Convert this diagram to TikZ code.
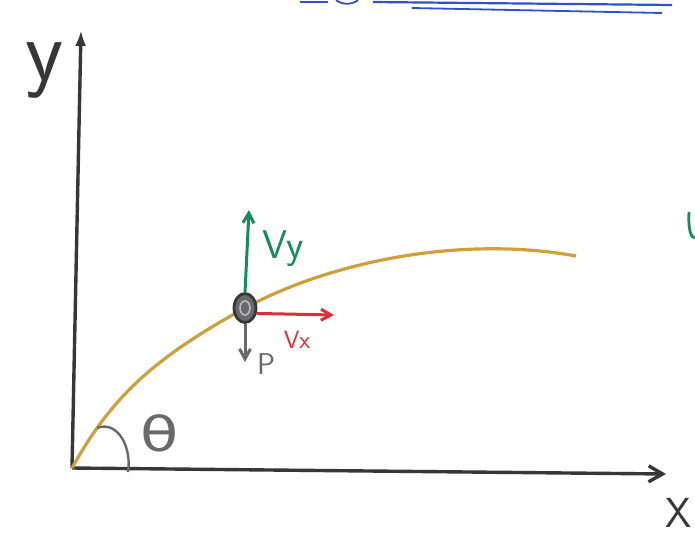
\documentclass[tikz,border=0pt]{standalone}
\usepackage{fontspec}
\newfontfamily\dejavu{DejaVu Sans}
\usetikzlibrary{arrows.meta,shapes.geometric}
\definecolor{pencil}{RGB}{55,55,58}
\definecolor{gold}{RGB}{205,160,60}
\definecolor{vgreen}{RGB}{20,140,95}
\definecolor{vred}{RGB}{225,45,55}
\definecolor{pgray}{RGB}{105,105,108}
\definecolor{pblue}{RGB}{50,80,200}
\tikzset{
  axis/.style={pencil, line width=3.4pt},
  vec/.style={line width=3pt, -{Straight Barb[length=10pt,width=11pt]}},
  lbl/.style={inner sep=0pt}
}
\begin{document}
\begin{tikzpicture}[x=1pt,y=-1pt]
\useasboundingbox (0,0) rectangle (695,538);
\fill[white] (0,0) rectangle (695,538);
% top blue strokes
\draw[pblue, line width=2.2pt] (373,2) -- (672,5);
\draw[pblue, line width=1.8pt] (412,8) -- (662,13);
\draw[pblue, line width=1.8pt] (300,2) -- (328,2);
\draw[pblue, line width=1.8pt] (336,0) .. controls (342,5) and (352,5) .. (358,0);
% partial green letter at right edge
\draw[vgreen, line width=2.8pt] (689,212) .. controls (688,230) and (691,238) .. (695,238);
% axes
\coordinate (O) at (72,468);
\coordinate (ytip) at (81,30);
\coordinate (xtip) at (666,474);
\draw[axis, -{Latex[length=16pt,width=11pt]}] (O) -- (ytip);
\draw[axis, -{Straight Barb[length=14pt,width=16pt]}] (O) -- (xtip);
\node[pencil, font=\sffamily\fontsize{88}{88}\selectfont, inner sep=0pt, anchor=base] (ylab) at (45,80) {y};
\node[pencil, font=\sffamily\fontsize{42}{42}\selectfont, inner sep=0pt, anchor=base] (xlab) at (679,527) {X};
% trajectory
\draw[gold, line width=3.2pt] (O) .. controls (110,400) and (150,360) .. (245,308)
  .. controls (330,262) and (460,235) .. (576,256);
% angle
\coordinate (a1) at (97,428);
\coordinate (a2) at (128,472);
\draw[pgray, line width=2.4pt] (a1) .. controls (118,420) and (132,448) .. (a2);
\node[pgray, font=\dejavu\fontsize{48}{48}\selectfont, inner sep=0pt] (theta) at (160,433) {\scalebox{1.3}[1]{θ}};
% ball
\node[ellipse, fill=pgray, draw=pencil, line width=2.8pt, minimum width=22pt, minimum height=29pt, inner sep=0pt] (ball) at (245,308) {};
\draw[gray!55!white, line width=1.6pt] (245,308) ellipse (5pt and 7pt);
% vectors
\coordinate (vyend) at (249,210);
\coordinate (vxend) at (334,315);
\coordinate (pend) at (245,362);
\draw[vec, vgreen] (ball.north) -- (vyend);
\draw[vec, vred] (ball.-25) -- (vxend);
\draw[vec, pgray] (ball.south) -- (pend);
\node[lbl, vgreen, font=\sffamily\fontsize{40}{40}\selectfont, anchor=base] (vy) at (283,258) {Vy};
\node[lbl, vred, font=\sffamily\fontsize{25}{25}\selectfont, anchor=base] (vx) at (297,348) {Vx};
\node[lbl, pgray, font=\sffamily\fontsize{30}{30}\selectfont, anchor=base] (p) at (266,374) {P};
\end{tikzpicture}
\end{document}
